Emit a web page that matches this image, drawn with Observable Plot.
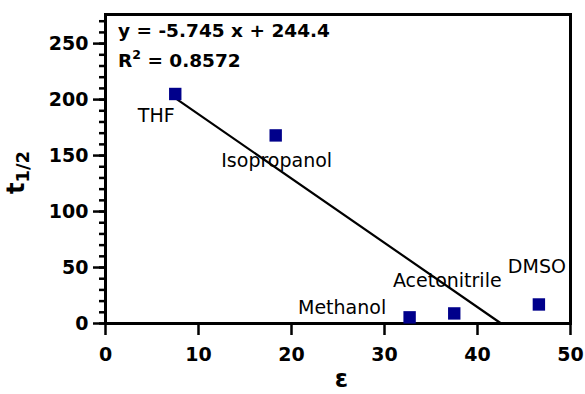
<!DOCTYPE html>
<html><head><meta charset="utf-8">
<script src="https://cdn.jsdelivr.net/npm/d3@7"></script>
<script src="https://cdn.jsdelivr.net/npm/@observablehq/plot@0.6"></script>
<style>body{margin:0;background:#fff}</style>
</head><body><div id="chart"></div>
<script>
// ---- data ----
const solvents = ["THF", "Isopropanol", "Methanol", "Acetonitrile", "DMSO"];
const epsilon = [7.5, 18.3, 32.7, 37.5, 46.6];
const halfLife = [205, 168, 5.5, 9, 17];
const slope = -5.745, intercept = 244.4, r2 = 0.8572;
const xTicks = [0, 10, 20, 30, 40, 50];
const yTicks = [0, 50, 100, 150, 200, 250];
const yMinorTicks = d3.range(0, 271, 10);

const data = solvents.map((name, i) => ({name, x: epsilon[i], y: halfLife[i]}));
const fitX = [d3.min(epsilon), -intercept / slope];
const fit = fitX.map(x => ({x, y: slope * x + intercept}));

// label placement (layout, not data)
const labelOffsets = {THF: [-19, 22], Isopropanol: [1, 25], Methanol: [-67.5, -9], Acetonitrile: [-7, -33], DMSO: [-2, -37.5]};

const FONT = "DejaVu Sans";

function yLabel(index, scales, values, dim) {
  const g = d3.create("svg:g");
  const t = g.append("text")
    .attr("transform", `translate(24,${(dim.marginTop + dim.height - dim.marginBottom) / 2 + 4}) rotate(-90)`)
    .attr("text-anchor", "middle").attr("font-weight", "bold").attr("fill", "black")
    .attr("font-family", FONT);
  t.append("tspan").attr("font-size", 24).text("t");
  t.append("tspan").attr("font-size", 18).attr("dy", 5).text("1/2");
  return g.node();
}
function xLabel(index, scales, values, dim) {
  const g = d3.create("svg:g");
  g.append("text")
    .attr("x", (dim.marginLeft + dim.width - dim.marginRight) / 2 + 4)
    .attr("y", dim.height - 7)
    .attr("text-anchor", "middle").attr("font-weight", "bold").attr("font-size", 24)
    .attr("font-family", FONT).attr("fill", "black").text("ε");
  return g.node();
}
function equation(index, scales, values, dim) {
  const g = d3.create("svg:g").attr("font-family", FONT).attr("font-weight", "bold")
    .attr("fill", "black").attr("text-anchor", "start");
  const x0 = dim.marginLeft + 13;
  const sign = intercept >= 0 ? "+" : "-";
  g.append("text").attr("x", x0).attr("y", dim.marginTop + 23).attr("font-size", 18.5)
    .attr("text-anchor", "start")
    .text(`y = ${slope} x ${sign} ${Math.abs(intercept)}`);
  const t = g.append("text").attr("x", x0).attr("y", dim.marginTop + 53).attr("font-size", 18.5)
    .attr("text-anchor", "start");
  t.append("tspan").text("R");
  t.append("tspan").attr("font-size", 12.5).attr("dy", -8).text("2");
  t.append("tspan").attr("dy", 8).text(` = ${r2}`);
  return g.node();
}

const labelMarks = solvents.map(n => Plot.text(data, {
  filter: d => d.name === n, x: "x", y: "y", text: "name",
  dx: labelOffsets[n][0], dy: labelOffsets[n][1],
  fontSize: 19, fontFamily: FONT, fill: "black", textAnchor: "middle", lineAnchor: "middle"
}));

const chart = Plot.plot({
  width: 585,
  height: 394,
  marginLeft: 105,
  marginRight: 15,
  marginTop: 14,
  marginBottom: 71,
  style: {fontFamily: FONT, color: "black", background: "white"},
  x: {domain: [0, 50], label: null},
  y: {domain: [0, 276], label: null},
  marks: [
    Plot.axisY(yMinorTicks, {tickSize: 6, text: null, strokeWidth: 2.5, label: null}),
    Plot.axisY(yTicks, {tickSize: 12, tickPadding: 5, fontWeight: "bold", fontSize: 19, strokeWidth: 2.5, label: null}),
    Plot.axisX(xTicks, {tickSize: 12, tickPadding: 12, fontWeight: "bold", fontSize: 19, strokeWidth: 2.5, label: null}),
    Plot.frame({strokeWidth: 3, stroke: "black"}),
    Plot.line(fit, {x: "x", y: "y", stroke: "black", strokeWidth: 2.2}),
    Plot.dot(data, {x: "x", y: "y", symbol: "square", r: 7, fill: "#00008b", stroke: "none"}),
    ...labelMarks,
    equation,
    yLabel,
    xLabel
  ]
});
document.getElementById("chart").append(chart);
</script>
</body></html>
